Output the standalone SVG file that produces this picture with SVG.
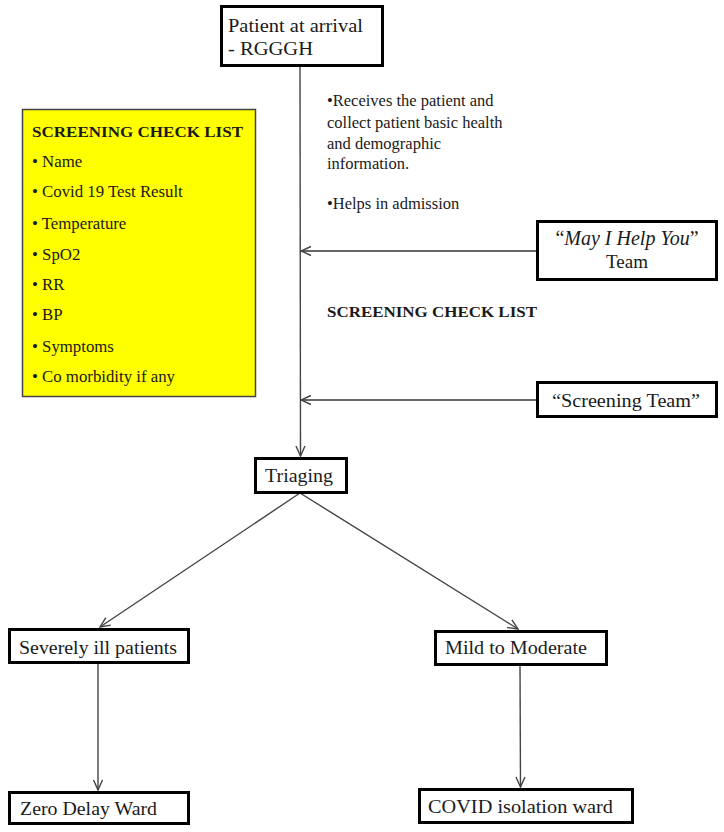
<svg xmlns="http://www.w3.org/2000/svg" width="724" height="832" viewBox="0 0 724 832">
<defs>
<style>
text{font-family:"Liberation Serif","Times New Roman",serif;fill:#1a1a1a}
.box{fill:#fff;stroke:#000;stroke-width:3}
.lbl{font-size:19px}
.note{font-size:16.5px}
.chk{font-size:16.8px}
.hd{font-size:15px;font-weight:bold}
.conn{fill:none;stroke:#444;stroke-width:1.4}
.hconn{fill:none;stroke:#666;stroke-width:2}
</style>
<marker id="arr" markerUnits="userSpaceOnUse" markerWidth="12" markerHeight="12" viewBox="0 0 12 12" refX="11" refY="6" orient="auto">
<path d="M1,1.5 L11,6 L1,10.5" fill="none" stroke="#444" stroke-width="1.4"/>
</marker>
</defs>
<rect width="724" height="832" fill="#fff"/>

<g id="connectors">
<line class="conn" x1="300" y1="66" x2="300.5" y2="456" marker-end="url(#arr)"/>
<line class="hconn" x1="536" y1="251" x2="301" y2="251" marker-end="url(#arr)"/>
<line class="hconn" x1="536" y1="400" x2="301" y2="400" marker-end="url(#arr)"/>
<line class="conn" x1="300" y1="493" x2="100" y2="627" marker-end="url(#arr)"/>
<line class="conn" x1="300" y1="493" x2="518" y2="629" marker-end="url(#arr)"/>
<line class="conn" x1="98" y1="663" x2="98" y2="790" marker-end="url(#arr)"/>
<line class="conn" x1="520" y1="665" x2="520.5" y2="787" marker-end="url(#arr)"/>
</g>

<g id="patient">
<rect class="box" x="221.5" y="6.5" width="161" height="59"/>
<text class="lbl" x="228" y="32" textLength="135" lengthAdjust="spacingAndGlyphs">Patient at arrival</text>
<text class="lbl" x="228" y="55" textLength="85" lengthAdjust="spacingAndGlyphs">- RGGGH</text>
</g>

<g id="notes">
<text class="note" x="327" y="106">•Receives the patient and</text>
<text class="note" x="327" y="128">collect patient basic health</text>
<text class="note" x="327" y="149">and demographic</text>
<text class="note" x="327" y="169">information.</text>
<text class="note" x="327" y="209">•Helps in admission</text>
<text class="hd" x="327" y="317" textLength="210" lengthAdjust="spacingAndGlyphs">SCREENING CHECK LIST</text>
</g>

<g id="checklist">
<rect x="22.5" y="109.5" width="233" height="287" fill="#ffff00" stroke="#444" stroke-width="1.5"/>
<text class="hd" x="32" y="137" textLength="211" lengthAdjust="spacingAndGlyphs">SCREENING CHECK LIST</text>
<text class="chk" x="32" y="167">• Name</text>
<text class="chk" x="32" y="197">• Covid 19 Test Result</text>
<text class="chk" x="32" y="229">• Temperature</text>
<text class="chk" x="32" y="260">• SpO2</text>
<text class="chk" x="32" y="290">• RR</text>
<text class="chk" x="32" y="320">• BP</text>
<text class="chk" x="32" y="352">• Symptoms</text>
<text class="chk" x="32" y="382">• Co morbidity if any</text>
</g>

<g id="mayihelp">
<rect class="box" x="537.5" y="221.5" width="179" height="58"/>
<text x="627" y="245" text-anchor="middle" font-size="20">“<tspan font-style="italic">May I Help You</tspan>”</text>
<text class="lbl" x="627" y="268" text-anchor="middle">Team</text>
</g>

<g id="screening">
<rect class="box" x="537.5" y="382.5" width="179" height="34"/>
<text class="lbl" x="626" y="407" text-anchor="middle" textLength="148" lengthAdjust="spacingAndGlyphs">“Screening Team”</text>
</g>

<g id="triaging">
<rect class="box" x="255.5" y="458.5" width="91" height="34"/>
<text class="lbl" x="299" y="482" text-anchor="middle" textLength="68" lengthAdjust="spacingAndGlyphs">Triaging</text>
</g>

<g id="severe">
<rect class="box" x="9.5" y="629.5" width="179" height="33"/>
<text class="lbl" x="19" y="654" textLength="158" lengthAdjust="spacingAndGlyphs">Severely ill patients</text>
</g>

<g id="mild">
<rect class="box" x="435.5" y="631.5" width="171" height="33"/>
<text class="lbl" x="445" y="654" textLength="142" lengthAdjust="spacingAndGlyphs">Mild to Moderate</text>
</g>

<g id="zero">
<rect class="box" x="9.5" y="792.5" width="179" height="31"/>
<text class="lbl" x="20" y="815" textLength="137" lengthAdjust="spacingAndGlyphs">Zero Delay Ward</text>
</g>

<g id="covid">
<rect class="box" x="419.5" y="789.5" width="213" height="33"/>
<text class="lbl" x="428" y="813" textLength="185" lengthAdjust="spacingAndGlyphs">COVID isolation ward</text>
</g>
</svg>
